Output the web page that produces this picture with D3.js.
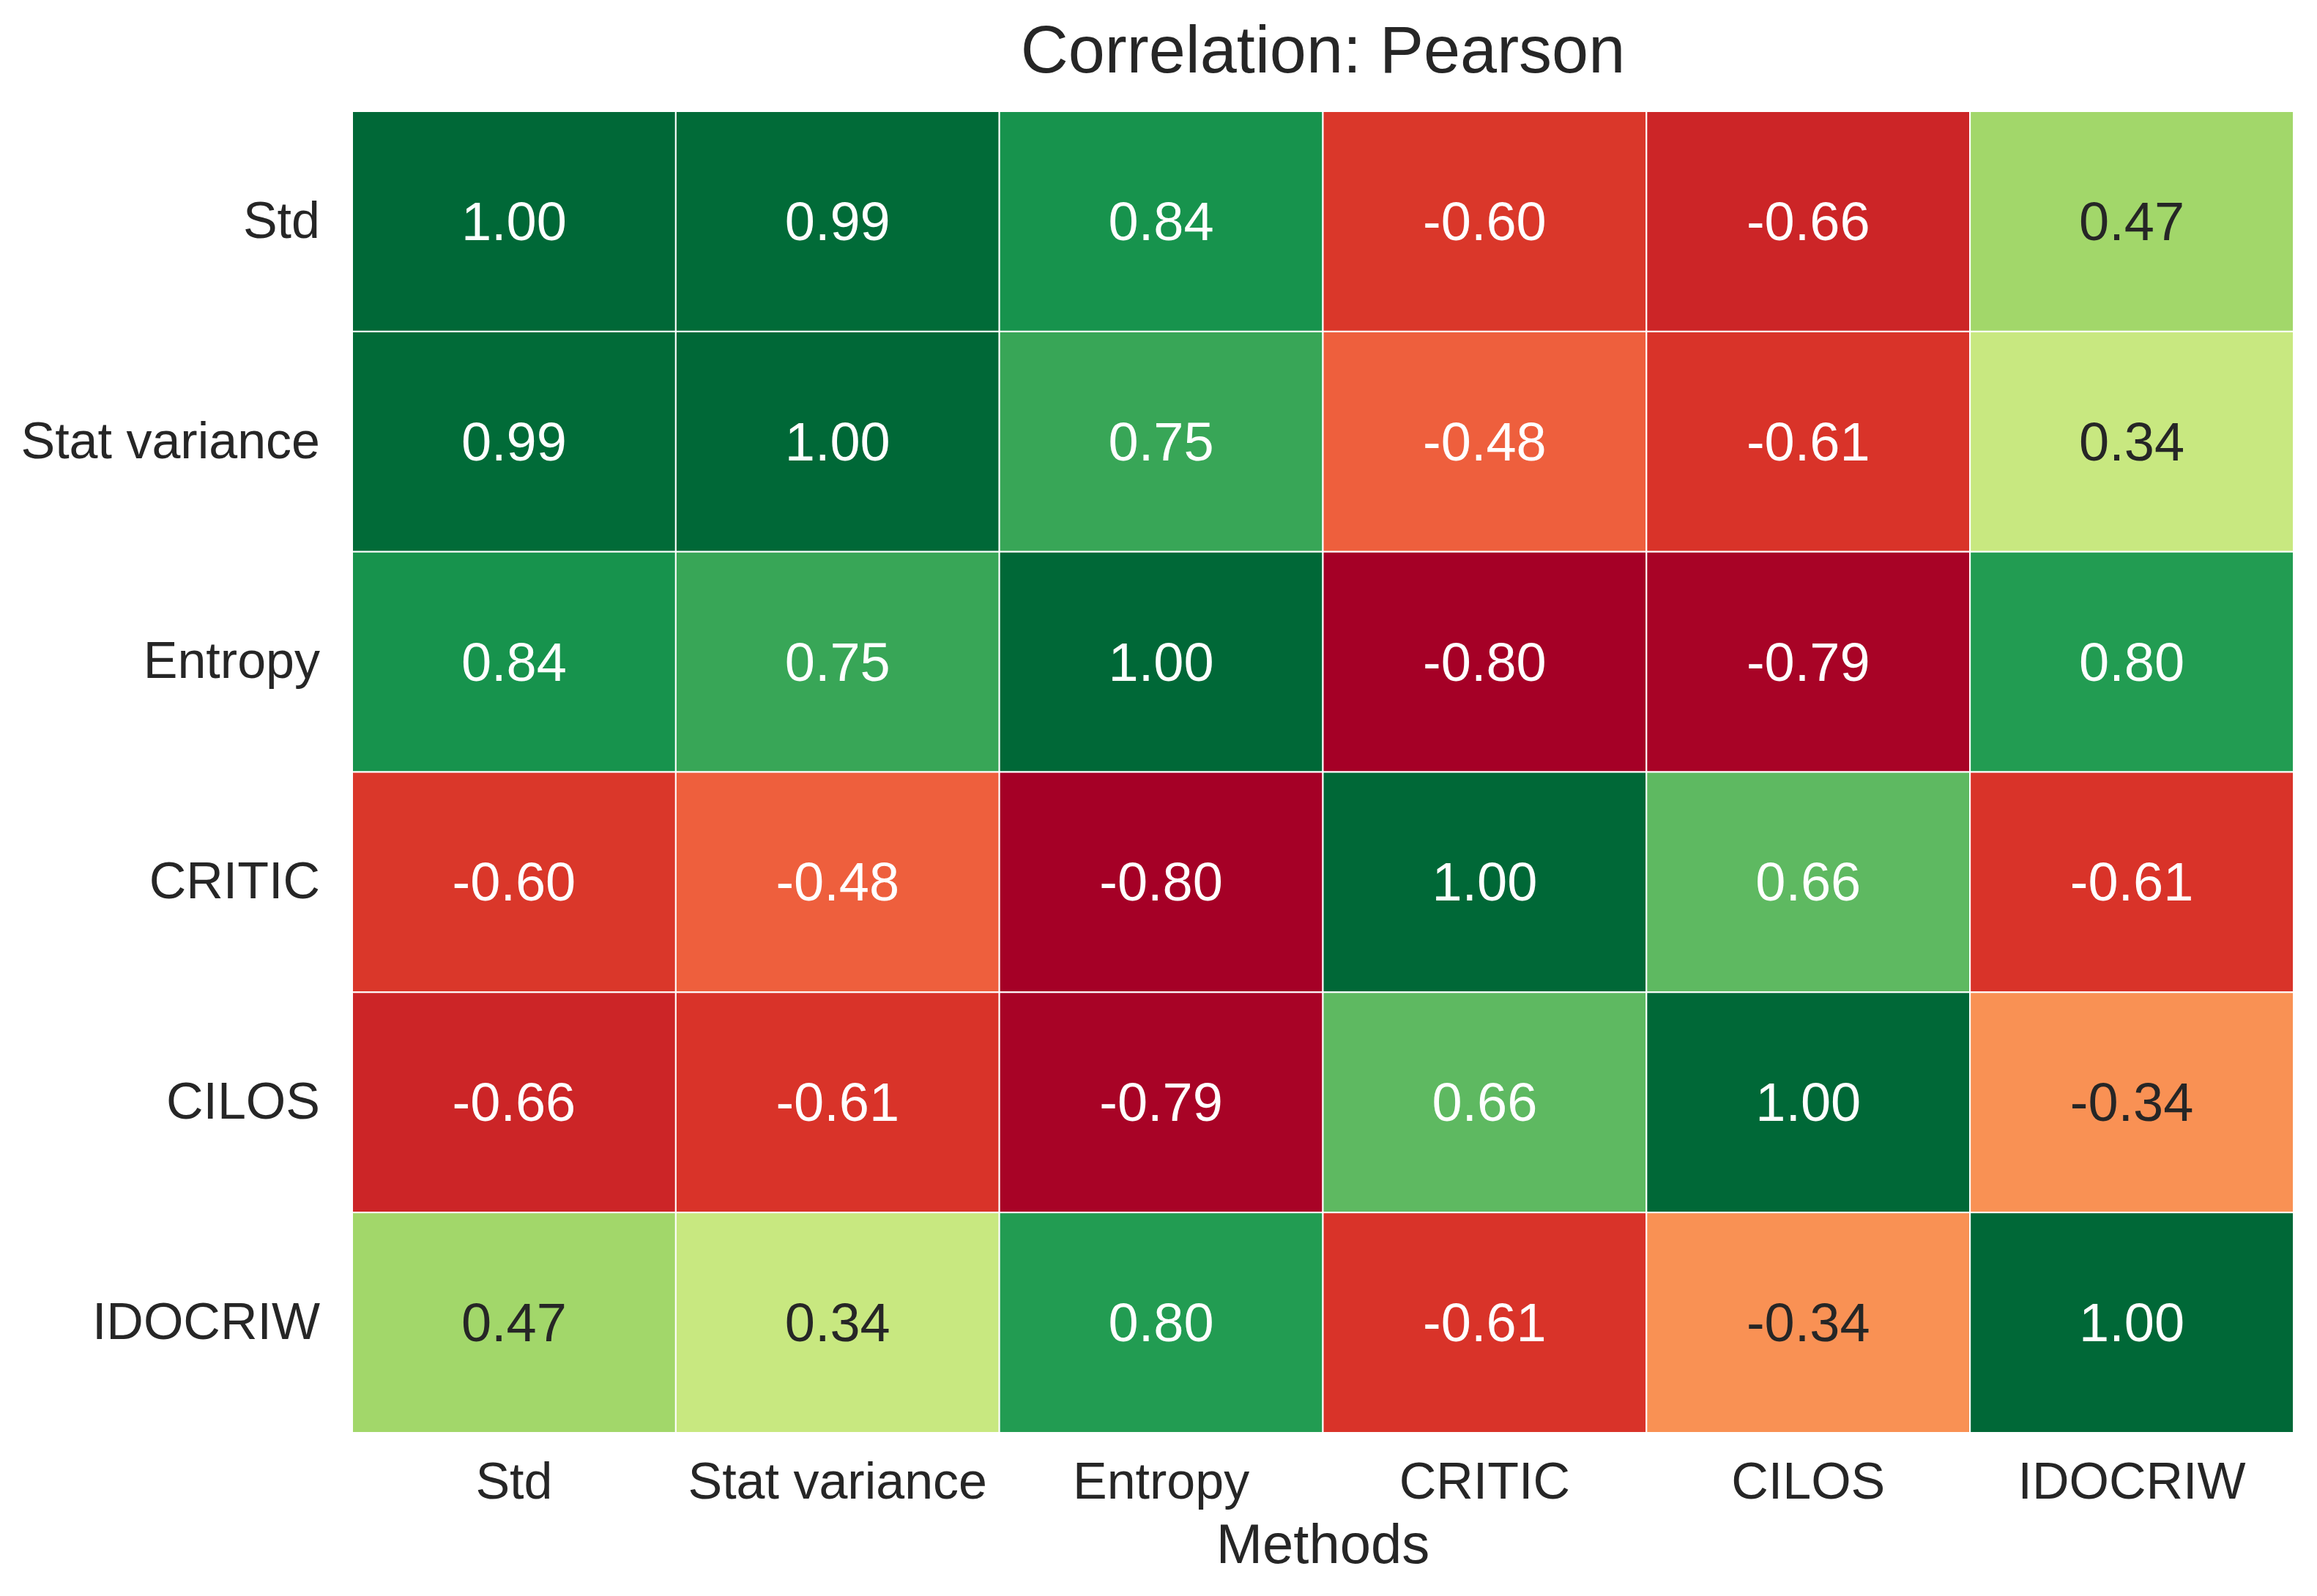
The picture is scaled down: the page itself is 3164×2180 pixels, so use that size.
<!DOCTYPE html>
<html>
<head>
<meta charset="utf-8">
<script src="https://cdn.jsdelivr.net/npm/d3@7"></script>
<style>
  html, body { margin: 0; padding: 0; background: #ffffff; }
  svg text { font-family: "Liberation Sans", Arial, sans-serif; }
</style>
</head>
<body>
<svg id="chart" width="3164" height="2180"></svg>
<script>
const methods = ["Std", "Stat variance", "Entropy", "CRITIC", "CILOS", "IDOCRIW"];
const rowStd      = [ 1.00,  0.99,  0.84, -0.60, -0.66,  0.47];
const rowStatVar  = [ 0.99,  1.00,  0.75, -0.48, -0.61,  0.34];
const rowEntropy  = [ 0.84,  0.75,  1.00, -0.80, -0.79,  0.80];
const rowCritic   = [-0.60, -0.48, -0.80,  1.00,  0.66, -0.61];
const rowCilos    = [-0.66, -0.61, -0.79,  0.66,  1.00, -0.34];
const rowIdocriw  = [ 0.47,  0.34,  0.80, -0.61, -0.34,  1.00];
const matrix = [rowStd, rowStatVar, rowEntropy, rowCritic, rowCilos, rowIdocriw];
const titleText = "Correlation: Pearson";
const xLabelText = "Methods";

const W = 3164, H = 2180;
const margin = { left: 481, right: W - 3132, top: 152, bottom: H - 1957 };
const svg = d3.select("#chart");

const x = d3.scaleBand().domain(methods).range([margin.left, W - margin.right]).padding(0);
const y = d3.scaleBand().domain(methods).range([margin.top, H - margin.bottom]).padding(0);

const rdylgn = ["#a50026","#d73027","#f46d43","#fdae61","#fee08b","#ffffbf","#d9ef8b","#a6d96a","#66bd63","#1a9850","#006837"];
const flat = matrix.flat();
const vmin = d3.min(flat), vmax = d3.max(flat);
const color = d3.scaleLinear()
  .domain(rdylgn.map((_, i) => vmin + (vmax - vmin) * i / (rdylgn.length - 1)))
  .range(rdylgn)
  .interpolate(d3.interpolateRgb)
  .clamp(true);

function luminance(c) {
  const rgb = d3.rgb(c);
  const f = v => { v /= 255; return v <= 0.03928 ? v / 12.92 : Math.pow((v + 0.055) / 1.055, 2.4); };
  return 0.2126 * f(rgb.r) + 0.7152 * f(rgb.g) + 0.0722 * f(rgb.b);
}

const cells = [];
matrix.forEach((row, i) => row.forEach((v, j) => cells.push({ r: methods[i], c: methods[j], v })));

svg.append("g").selectAll("rect").data(cells).join("rect")
  .attr("x", d => x(d.c)).attr("y", d => y(d.r))
  .attr("width", x.bandwidth()).attr("height", y.bandwidth())
  .attr("fill", d => color(d.v))
  .attr("stroke", "#ffffff").attr("stroke-width", 2);

svg.append("g").selectAll("text").data(cells).join("text")
  .attr("x", d => x(d.c) + x.bandwidth() / 2)
  .attr("y", d => y(d.r) + y.bandwidth() / 2)
  .attr("text-anchor", "middle").attr("dominant-baseline", "central")
  .attr("font-size", 74)
  .attr("fill", d => luminance(color(d.v)) > 0.408 ? "#262626" : "#ffffff")
  .text(d => d.v.toFixed(2));

// y axis
const yAxis = svg.append("g").attr("transform", `translate(${margin.left},0)`)
  .call(d3.axisLeft(y).tickSize(0).tickPadding(44));
yAxis.select(".domain").remove();
yAxis.selectAll("text").attr("font-size", 70).attr("fill", "#262626")
  .attr("font-family", "Liberation Sans, Arial, sans-serif");

// x axis
const xAxis = svg.append("g").attr("transform", `translate(0,${H - margin.bottom})`)
  .call(d3.axisBottom(x).tickSize(0).tickPadding(40));
xAxis.select(".domain").remove();
xAxis.selectAll("text").attr("font-size", 70).attr("fill", "#262626")
  .attr("font-family", "Liberation Sans, Arial, sans-serif");

svg.append("text")
  .attr("x", (margin.left + W - margin.right) / 2).attr("y", 2135)
  .attr("text-anchor", "middle").attr("font-size", 76).attr("fill", "#262626")
  .text(xLabelText);

svg.append("text")
  .attr("x", (margin.left + W - margin.right) / 2).attr("y", 99)
  .attr("text-anchor", "middle").attr("font-size", 90).attr("fill", "#262626")
  .text(titleText);
</script>
</body>
</html>
